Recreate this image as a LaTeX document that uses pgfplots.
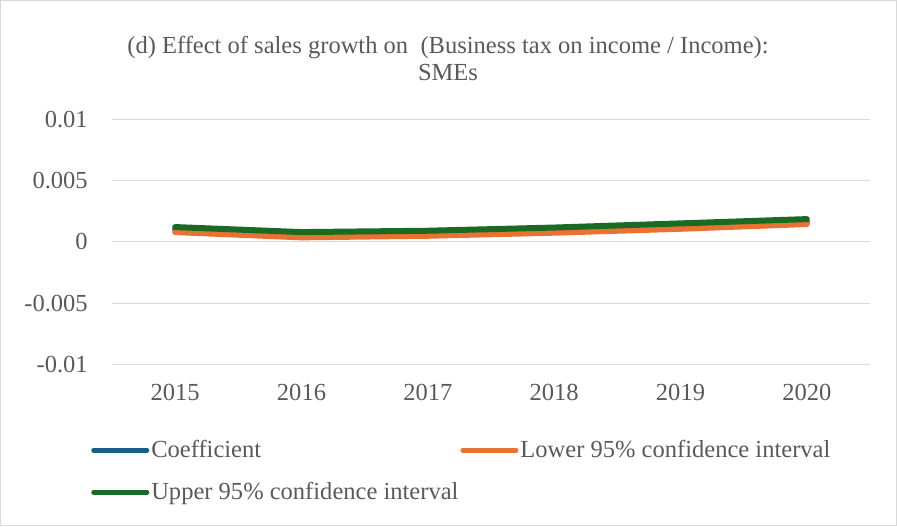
\documentclass[border=0pt]{standalone}
\usepackage{pgfplots}
\pgfplotsset{compat=1.18}
\usepackage{fontspec}
\setmainfont{Liberation Serif}
\definecolor{cCoef}{HTML}{156082}
\definecolor{cLow}{HTML}{E97132}
\definecolor{cUp}{HTML}{196B24}
\definecolor{cGrid}{HTML}{D9D9D9}
\definecolor{cTxt}{HTML}{595959}
\newcommand{\chartfont}{\fontsize{18.4}{20.25}\selectfont}

\begin{document}
\begin{tikzpicture}[x=0.75pt, y=0.75pt]
% outer frame, picture is 897 x 526 px
\draw[cGrid, line width=0.75pt] (0.5,0.5) rectangle (896.5,525.5);
\useasboundingbox (0,0) rectangle (897,526);

\node[font=\chartfont, text=cTxt, align=center] at (448,526-58)
  {(d) Effect of sales growth on\ \ (Business tax on income / Income):\\SMEs};

\begin{axis}[
  at={(84pt,121.3pt)}, anchor=south west,
  scale only axis,
  width=568.5pt, height=183.75pt,
  xmin=-0.5, xmax=5.5,
  ymin=-0.01, ymax=0.01,
  xtick={0,1,2,3,4,5},
  xticklabels={2015,2016,2017,2018,2019,2020},
  ytick={-0.01,-0.005,0,0.005,0.01},
  yticklabels={-0.01,-0.005,0,0.005,0.01},
  scaled y ticks=false,
  ymajorgrids=true,
  grid style={cGrid, line width=0.75pt},
  axis line style={draw=none},
  major tick length=0pt,
  tick label style={font=\chartfont, text=cTxt},
  yticklabel style={anchor=east, inner sep=0pt, xshift=-18pt},
  xticklabel style={anchor=north, inner sep=0pt, yshift=-15pt},
  clip=false,
  every axis plot/.append style={line width=4.5pt, line join=round, line cap=round},
  legend columns=2,
  legend cell align=left,
  legend style={
    at={(-0.0277,-0.305)}, anchor=north west,
    draw=none, fill=none, font=\chartfont, text=cTxt,
    inner sep=0pt, row sep=15pt,
    nodes={inner xsep=1.5pt, inner ysep=1pt},
    /tikz/every even column/.append style={column sep=0pt},
  },
  legend image code/.code={\draw[#1, line width=3.5pt] (0pt,0pt) -- (40pt,0pt);},
]
\addplot[cCoef] coordinates {(0,0.00100) (1,0.00055) (2,0.00070) (3,0.00095) (4,0.00128) (5,0.00165)};
\addlegendentry{Coefficient}
\addplot[cLow] coordinates {(0,0.00079) (1,0.00036) (2,0.00049) (3,0.00074) (4,0.00106) (5,0.00145)};
\addlegendentry{Lower 95\% confidence interval}
\addplot[cUp] coordinates {(0,0.00120) (1,0.00079) (2,0.00090) (3,0.00116) (4,0.00150) (5,0.00185)};
\addlegendentry{Upper 95\% confidence interval}
\end{axis}
\end{tikzpicture}
\end{document}
